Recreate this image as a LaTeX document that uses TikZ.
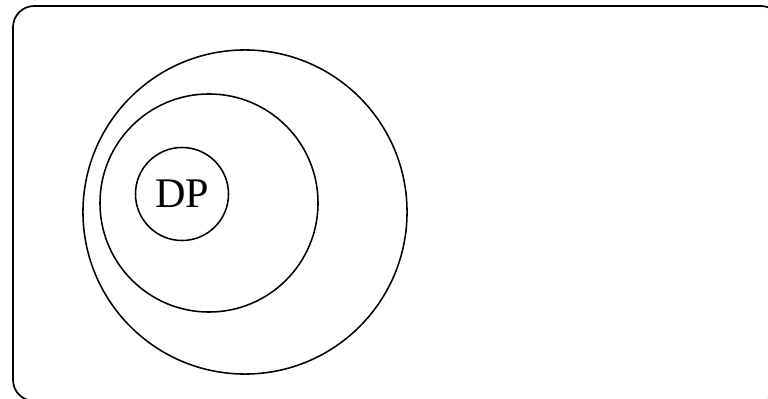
\documentclass[tikz,border=0pt]{standalone}
\usepackage{fontspec}
\setmainfont{Liberation Serif}
\usepackage{tikz}
\usetikzlibrary{positioning}

\begin{document}
\begin{tikzpicture}[
  x=0.025cm, y=-0.025cm,
  every node/.style={font=\fontsize{30}{36}\selectfont},
  frame/.style={draw, line width=1.2pt, rounded corners=0.53cm},
  ring/.style={draw, circle, line width=1.1pt, inner sep=0pt}
]
\useasboundingbox (0,0) rectangle (768,399);

% Outer frame (runs past the right and bottom edge)
\begin{scope}
\clip (0,0) rectangle (768,399);
\draw[frame] (13,6) rectangle (782,401);
\end{scope}

% Nested sets
\node[ring, minimum size=8.1cm] (outer) at (245,212) {};
\node[ring, minimum size=5.45cm] (middle) at (209,203) {};
\node[ring, minimum size=2.325cm] (dp) at (182,194) {DP};
\end{tikzpicture}
\end{document}
